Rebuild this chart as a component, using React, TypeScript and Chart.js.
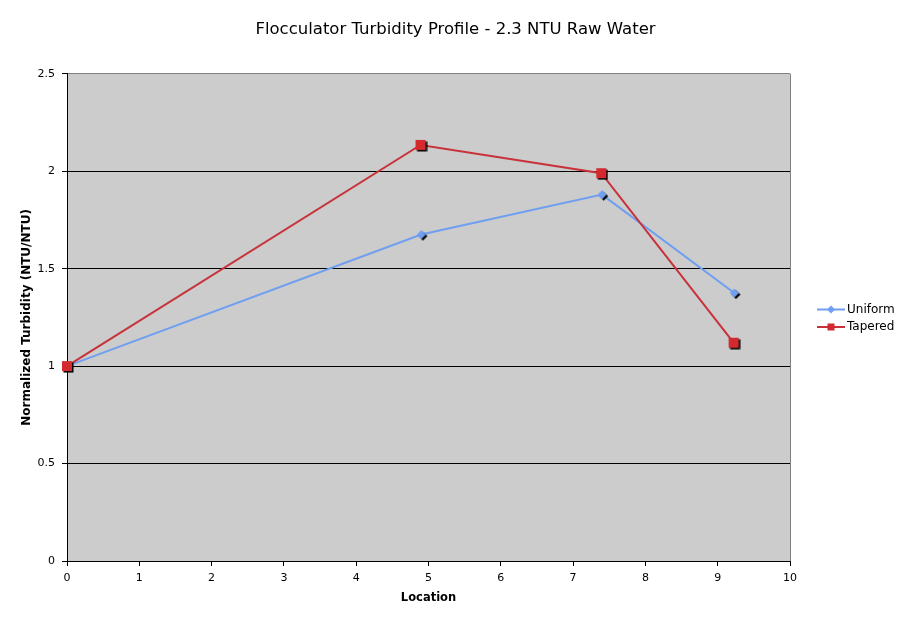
import { useEffect, useRef } from "react";
import { Chart, registerables } from "chart.js";

Chart.register(...registerables);

const TITLE = "Flocculator Turbidity Profile - 2.3 NTU Raw Water";
const X_TITLE = "Location";
const Y_TITLE = "Normalized Turbidity (NTU/NTU)";

const seriesNames = ["Uniform", "Tapered"];
const uniformX = [0, 4.9, 7.4, 9.23];
const uniformY = [1, 1.675, 1.88, 1.375];
const taperedX = [0, 4.89, 7.39, 9.22];
const taperedY = [1, 2.135, 1.99, 1.12];
const xTicks = [0, 1, 2, 3, 4, 5, 6, 7, 8, 9, 10];
const yTicks = [0, 0.5, 1, 1.5, 2, 2.5];

const BLUE = "#6f9ff0";
const RED = "#d22a2e";
const RED_LINE = "#c8323a";
const FONT = "'DejaVu Sans', Verdana, sans-serif";

function makeMarker(shape: "diamond" | "square", color: string, shadow: boolean) {
  const c = document.createElement("canvas");
  c.width = 14;
  c.height = 14;
  const g = c.getContext("2d")!;
  const draw = (cx: number, cy: number, fill: string) => {
    g.fillStyle = fill;
    if (shape === "square") {
      g.fillRect(cx - 5, cy - 5, 10, 10);
    } else {
      g.beginPath();
      g.moveTo(cx, cy - 4.5);
      g.lineTo(cx + 4.5, cy);
      g.lineTo(cx, cy + 4.5);
      g.lineTo(cx - 4.5, cy);
      g.closePath();
      g.fill();
    }
  };
  if (shadow) draw(shape === "square" ? 8.5 : 8.6, shape === "square" ? 8.5 : 8.6, "#000");
  draw(7, 7, color);
  return c;
}

function toPoints(xs: number[], ys: number[]) {
  return xs.map((x, i) => ({ x, y: ys[i] }));
}

export default function App() {
  const ref = useRef<HTMLCanvasElement | null>(null);

  useEffect(() => {
    if (!ref.current) return;
    const diamond = makeMarker("diamond", BLUE, true);
    const square = makeMarker("square", RED, true);
    const legendMarkers = [
      { shape: "diamond", color: BLUE },
      { shape: "square", color: RED },
    ];

    const bgPlugin = {
      id: "plotBg",
      afterLayout(chart: any) {
        const tb = chart.titleBlock;
        if (tb) {
          tb.left = 0;
          tb.right = chart.width;
          tb.width = chart.width;
        }
      },
      beforeDraw(chart: any) {
        const { ctx, chartArea } = chart;
        ctx.save();
        ctx.fillStyle = "#cccccc";
        ctx.fillRect(chartArea.left, chartArea.top, chartArea.right - chartArea.left, chartArea.bottom - chartArea.top);
        ctx.restore();
      },
    };

    const legendPlugin = {
      id: "sideLegend",
      afterDraw(chart: any) {
        const { ctx } = chart;
        ctx.save();
        chart.data.datasets.forEach((ds: any, i: number) => {
          const y = 309.5 + i * 17.5;
          ctx.strokeStyle = ds.borderColor;
          ctx.lineWidth = 2;
          ctx.beginPath();
          ctx.moveTo(817, y);
          ctx.lineTo(845, y);
          ctx.stroke();
          const m = legendMarkers[i];
          ctx.fillStyle = m.color;
          if (m.shape === "square") {
            ctx.fillRect(831 - 3.5, y - 3.5, 7, 7);
          } else {
            ctx.beginPath();
            ctx.moveTo(831, y - 4);
            ctx.lineTo(835, y);
            ctx.lineTo(831, y + 4);
            ctx.lineTo(827, y);
            ctx.closePath();
            ctx.fill();
          }
          ctx.fillStyle = "#000";
          ctx.font = `12px ${FONT}`;
          ctx.textBaseline = "middle";
          ctx.textAlign = "left";
          ctx.fillText(ds.label, 847, y);
        });
        ctx.restore();
      },
    };

    const chart = new Chart(ref.current, {
      type: "scatter",
      data: {
        datasets: [
          {
            label: seriesNames[0],
            data: toPoints(uniformX, uniformY),
            showLine: true,
            borderColor: BLUE,
            backgroundColor: BLUE,
            borderWidth: 2,
            pointStyle: diamond as any,
            pointRadius: 5,
            clip: false,
            order: 1,
          },
          {
            label: seriesNames[1],
            data: toPoints(taperedX, taperedY),
            showLine: true,
            borderColor: RED_LINE,
            backgroundColor: RED,
            borderWidth: 2,
            pointStyle: square as any,
            pointRadius: 5,
            clip: false,
            order: 0,
          },
        ],
      },
      options: {
        responsive: false,
        animation: false,
        devicePixelRatio: 1,
        layout: { padding: { left: 0, right: 121, top: 0, bottom: 0 } },
        plugins: {
          legend: { display: false },
          tooltip: { enabled: false },
          title: {
            display: true,
            text: TITLE,
            color: "#000",
            font: { family: FONT, size: 16.5, weight: "normal" },
            padding: { top: 20, bottom: 34 },
          },
        },
        scales: {
          x: {
            type: "linear",
            min: 0,
            max: 10,
            afterBuildTicks: (scale: any) => {
              scale.ticks = xTicks.map((v) => ({ value: v }));
            },
            afterFit: (scale: any) => {
              scale.height = 62;
            },
            ticks: {
              color: "#000",
              font: { family: FONT, size: 11 },
              padding: 6,
              maxRotation: 0,
              autoSkip: false,
              callback: (v: any) => String(v),
            },
            grid: {
              drawOnChartArea: true,
              drawTicks: true,
              tickLength: 5,
              tickColor: "#000",
              color: (ctx: any) => (ctx.tick && ctx.tick.value === 10 ? "#808080" : "rgba(0,0,0,0)"),
            },
            border: { display: true, color: "#000", width: 1 },
            title: {
              display: true,
              text: X_TITLE,
              color: "#000",
              font: { family: FONT, size: 11.5, weight: "bold" },
              padding: { top: 0, bottom: 18 },
            },
          },
          y: {
            type: "linear",
            min: 0,
            max: 2.5,
            afterBuildTicks: (scale: any) => {
              scale.ticks = yTicks.map((v) => ({ value: v }));
            },
            afterFit: (scale: any) => {
              scale.width = 67;
            },
            ticks: {
              color: "#000",
              font: { family: FONT, size: 11 },
              padding: 7,
              autoSkip: false,
              callback: (v: any) => String(v),
            },
            grid: {
              drawTicks: true,
              tickLength: 5,
              tickColor: "#000",
              color: (ctx: any) => (ctx.tick && ctx.tick.value === 2.5 ? "#808080" : "#000000"),
            },
            border: { display: true, color: "#000", width: 1 },
            title: {
              display: true,
              text: Y_TITLE,
              color: "#000",
              font: { family: FONT, size: 12, weight: "bold" },
              padding: { top: 20, bottom: 0 },
            },
          },
        },
      },
      plugins: [bgPlugin, legendPlugin],
    });

    return () => chart.destroy();
  }, []);

  return (
    <div style={{ position: "absolute", left: 0, top: 0, width: 911, height: 623, background: "#fff" }}>
      <canvas ref={ref} width={911} height={623} />
    </div>
  );
}
